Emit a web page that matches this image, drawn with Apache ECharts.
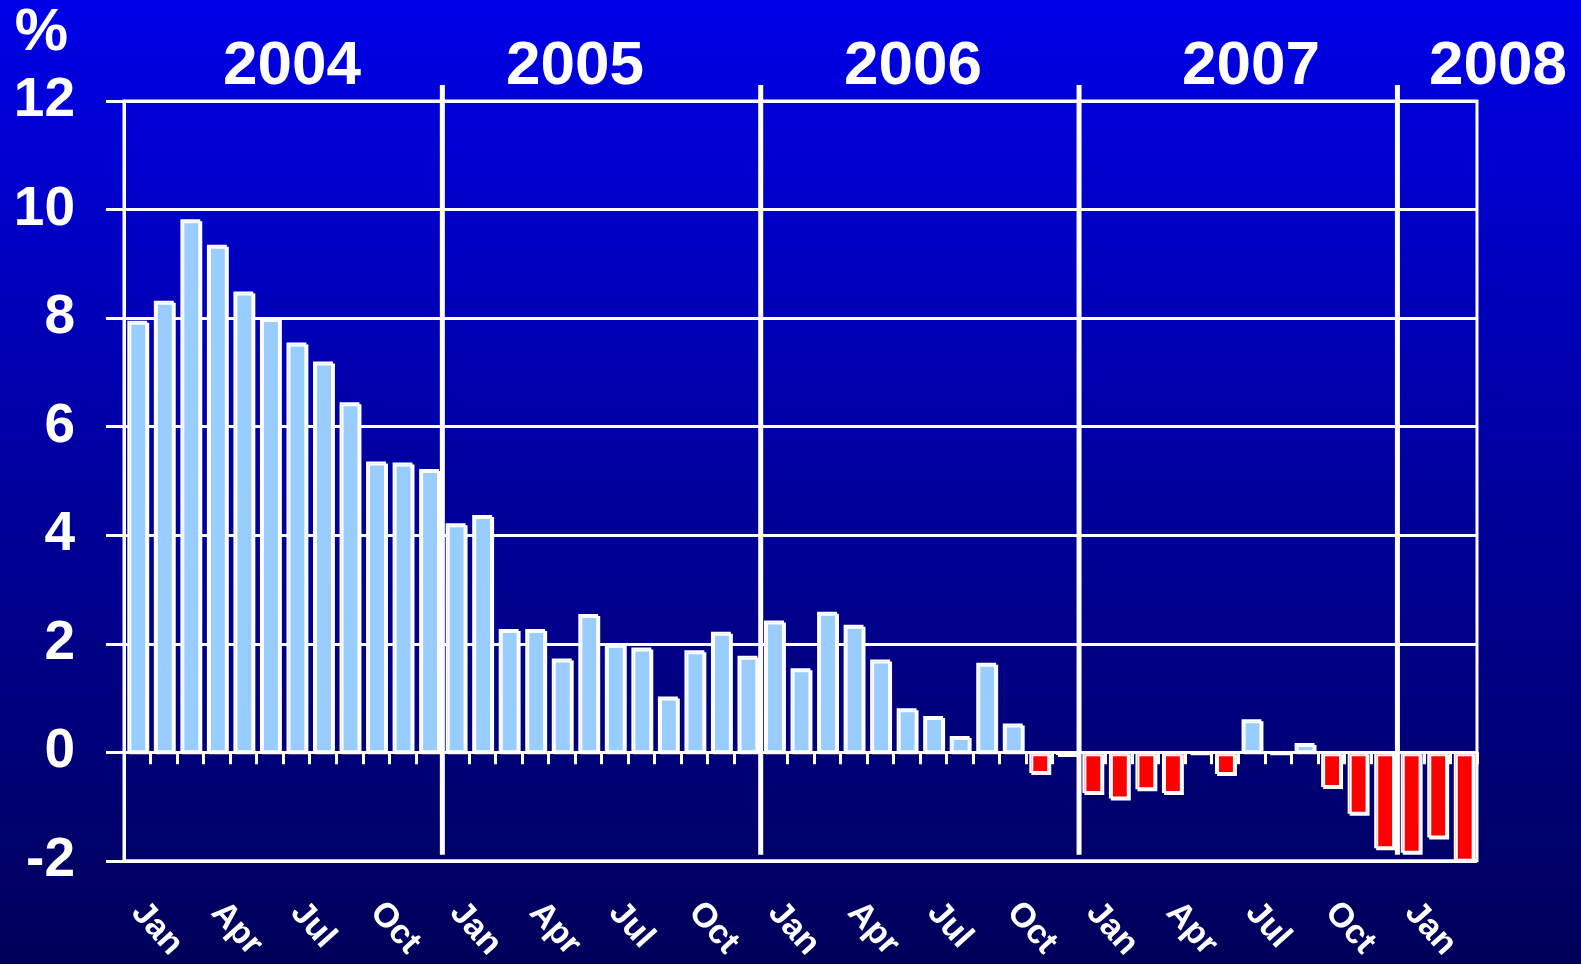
<!DOCTYPE html>
<html>
<head>
<meta charset="utf-8">
<style>
  html,body{margin:0;padding:0;width:1581px;height:964px;overflow:hidden;background:#000080}
  #chart{width:1581px;height:964px}
</style>
<script src="https://cdn.jsdelivr.net/npm/echarts@6/dist/echarts.min.js"></script>
</head>
<body>
<div id="chart"></div>
<script>
/* Variación anual mensual, ene-2004 a mar-2008 */
const MONTHS = ["Jan","Feb","Mar","Apr","May","Jun","Jul","Aug","Sep","Oct","Nov","Dec"];
const YEARS = ["2004","2005","2006","2007","2008"];
const MONTHS_PER_YEAR = [12,12,12,12,3];

const V2004 = [7.95, 8.32, 9.82, 9.35, 8.49, 8.00, 7.55, 7.20, 6.45, 5.36, 5.34, 5.22];
const V2005 = [4.22, 4.37, 2.27, 2.27, 1.73, 2.55, 2.00, 1.93, 1.03, 1.88, 2.22, 1.78];
const V2006 = [2.43, 1.55, 2.59, 2.35, 1.71, 0.81, 0.67, 0.30, 1.65, 0.53, -0.38, -0.05];
const V2007 = [-0.75, -0.85, -0.68, -0.75, 0, -0.40, 0.61, 0, 0.17, -0.64, -1.13, -1.77];
const V2008 = [-1.85, -1.57, -2.00];

const Y_TICKS = {min:-2, max:12, interval:2};

// categorías y valores derivados de las tablas
const cats = [], vals = [];
[V2004,V2005,V2006,V2007,V2008].forEach(arr => arr.forEach((v,i) => { cats.push(MONTHS[i]); vals.push(v); }));
// índice donde empieza cada año (sin el primero) -> líneas divisorias
const yearStarts = [];
MONTHS_PER_YEAR.reduce((acc,n,i) => { if(i>0) yearStarts.push(acc); return acc+n; }, 0);

const FONT = "'Liberation Sans', Arial, sans-serif";
const WHITE = "#ffffff";

const chart = echarts.init(document.getElementById("chart"), null, {renderer:"canvas"});

// posiciones de los rótulos de año (colocados a mano en el original)
const yearX = [292, 575, 913, 1251, 1498];

chart.setOption({
  animation:false,
  backgroundColor:{type:"linear",x:0,y:0,x2:0,y2:1,
    colorStops:[{offset:0,color:"#0000E8"},{offset:0.5,color:"#00009E"},{offset:1,color:"#00005A"}]},
  grid:{left:124,right:104,top:101,bottom:102,show:true,borderColor:WHITE,borderWidth:3,backgroundColor:"transparent"},
  graphic: YEARS.map((y,i)=>({
    type:"text", x:yearX[i], y:67, z:10,
    style:{text:y, fill:WHITE, font:`bold 62px ${FONT}`, textAlign:"center", textVerticalAlign:"middle"}
  })),
  xAxis:[
    { // rótulos de meses abajo
      type:"category", data:cats, position:"bottom", boundaryGap:true,
      axisLine:{show:false,onZero:false}, axisTick:{show:false}, splitLine:{show:false},
      axisLabel:{interval:2, rotate:-48, margin:46, color:WHITE, fontFamily:FONT, fontWeight:"bold", fontSize:34}
    },
    { // eje en cero con marcas
      type:"category", data:cats, position:"bottom", boundaryGap:true,
      axisLine:{show:true,onZero:true,lineStyle:{color:WHITE,width:3}},
      axisTick:{show:true,interval:0,length:12,lineStyle:{color:WHITE,width:3}},
      axisLabel:{show:false}, splitLine:{show:false}
    }
  ],
  yAxis:{
    type:"value", min:Y_TICKS.min, max:Y_TICKS.max, interval:Y_TICKS.interval,
    name:"%", nameLocation:"end", nameGap:38,
    nameTextStyle:{color:WHITE,fontFamily:FONT,fontWeight:"bold",fontSize:60,align:"right",padding:[0,56,0,0]},
    axisLine:{show:true,lineStyle:{color:WHITE,width:3}},
    axisTick:{show:true,length:18,lineStyle:{color:WHITE,width:3}},
    splitLine:{show:true,lineStyle:{color:WHITE,width:3}},
    axisLabel:{margin:49,color:WHITE,fontFamily:FONT,fontWeight:"bold",fontSize:55}
  },
  series:[
    {
      type:"bar", xAxisIndex:0, data:vals, barCategoryGap:"25%", z:3,
      itemStyle:{
        color:p => p.value < 0 ? "#FF0000" : "#99CCFF",
        borderColor:WHITE, borderWidth:2,
        shadowColor:WHITE, shadowBlur:0, shadowOffsetX:2, shadowOffsetY:2
      }
    },
    { // divisiones entre años
      type:"custom", xAxisIndex:0, z:5, silent:true,
      data:yearStarts.map(s => [s, Y_TICKS.max]),
      renderItem:(params, api)=>{
        const w = api.size([1,0])[0];
        const top = api.coord([api.value(0), Y_TICKS.max]);
        const bot = api.coord([api.value(0), Y_TICKS.min]);
        const x = top[0] - w/2;
        return {type:"line", shape:{x1:x,y1:top[1]-16,x2:x,y2:bot[1]-6},
          style:{stroke:WHITE,lineWidth:5}};
      }
    }
  ]
});
</script>
</body>
</html>
